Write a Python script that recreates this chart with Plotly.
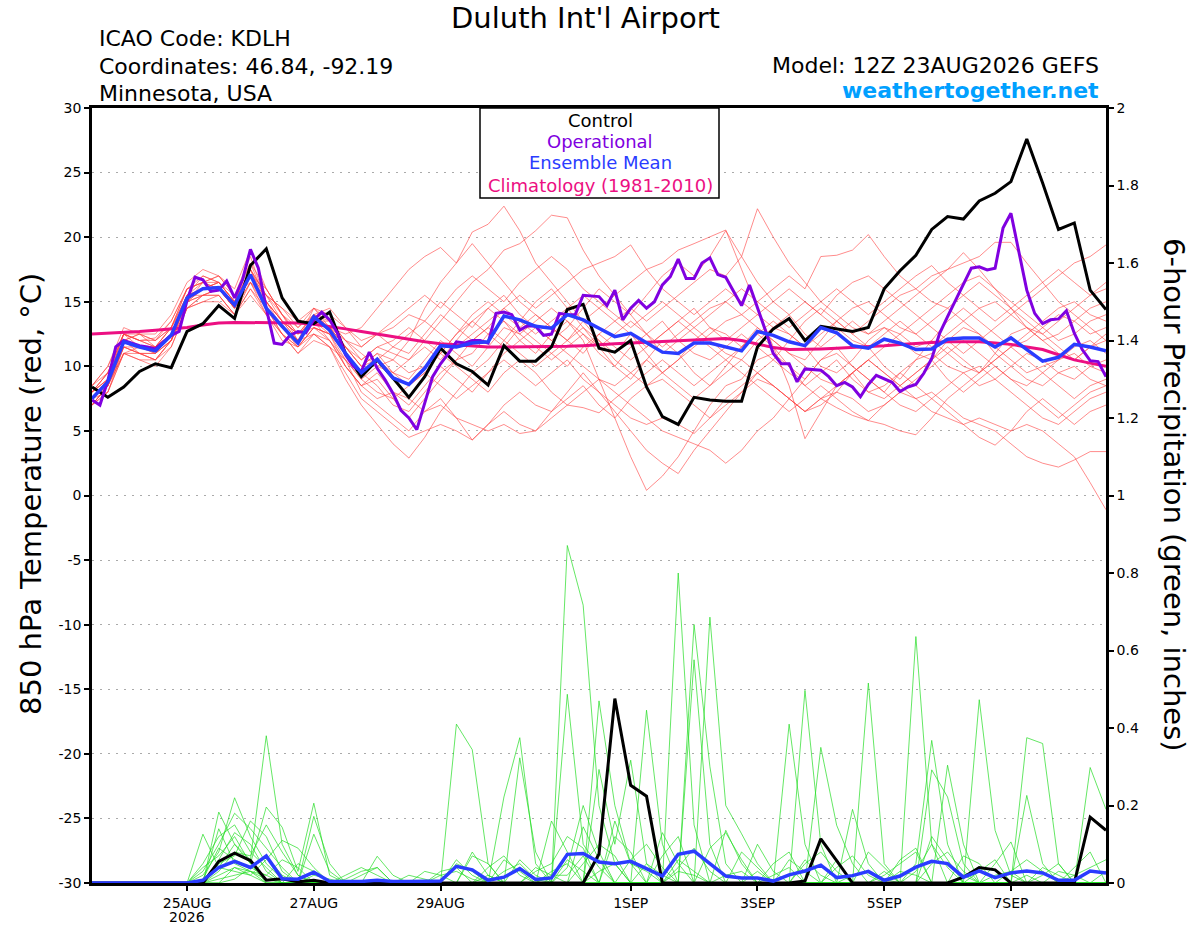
import pandas as pd
import plotly.graph_objects as go

# GEFS 12Z 23AUG2026 run, 6-hourly out to 384 h (operational is 3-hourly)
START = "2026-08-23 12:00"
times = pd.date_range(START, periods=65, freq="6h")
op_times = pd.date_range(START, periods=129, freq="3h")

tick_dates = ["2026-08-25", "2026-08-27", "2026-08-29", "2026-09-01",
              "2026-09-03", "2026-09-05", "2026-09-07"]
tick_labels = ["25AUG", "27AUG", "29AUG", "1SEP", "3SEP", "5SEP", "7SEP"]
temp_ticks = [-30, -25, -20, -15, -10, -5, 0, 5, 10, 15, 20, 25, 30]
temp_tick_labels = ["-30", "-25", "-20", "-15", "-10", "-5", "0",
                    "5", "10", "15", "20", "25", "30"]

# 850 hPa temperature (C)
control_temp = [8.4, 7.6, 8.4, 9.6, 10.2, 9.9, 12.7, 13.3, 14.7, 13.7,
                17.8, 19.1, 15.3, 13.5, 13.3, 14.2, 11.0, 9.2, 10.5, 9.1,
                7.6, 9.2, 11.4, 10.2, 9.6, 8.55, 11.6, 10.4, 10.4, 11.5,
                14.4, 14.8, 11.4, 11.1, 12.0, 8.4, 6.1, 5.5, 7.6, 7.4,
                7.3, 7.3, 11.5, 12.9, 13.7, 12.0, 13.1, 12.9, 12.7, 13.0,
                16.0, 17.4, 18.6, 20.6, 21.6, 21.4, 22.8, 23.4, 24.3, 27.6,
                24.2, 20.6, 21.1, 15.9, 14.4]

operational_temp = [7.4, 7.0, 8.9, 11.5, 12.0, 11.8, 11.6, 11.5, 11.35, 11.9,
                    12.4, 12.7, 15.1, 16.9, 16.7, 15.8, 15.9, 16.6, 15.3, 16.7,
                    19.06, 17.6, 14.5, 11.8, 11.7, 12.4, 12.7, 12.6, 13.6, 14.2,
                    13.6, 12.56, 10.9, 10.0, 9.6, 11.1, 9.85, 8.95, 7.9, 6.6,
                    6.0, 5.1, 7.1, 9.2, 10.2, 11.0, 11.9, 11.8, 12.0, 12.0,
                    11.8, 14.1, 14.2, 14.0, 12.8, 13.15, 13.1, 12.4, 12.5, 14.1,
                    14.0, 14.0, 15.5, 15.45, 15.4, 14.7, 15.9, 13.6, 14.5, 15.1,
                    14.5, 15.0, 16.3, 16.95, 18.3, 16.8, 16.8, 18.0, 18.4, 17.1,
                    16.9, 15.8, 14.7, 16.3, 14.6, 12.8, 11.0, 10.2, 10.2, 8.8,
                    9.8, 9.75, 9.7, 9.2, 8.5, 8.75, 8.4, 7.65, 8.6, 9.3,
                    9.0, 8.76, 8.05, 8.4, 8.6, 9.46, 10.6, 12.56, 13.85, 15.1,
                    16.3, 17.6, 17.7, 17.46, 17.6, 20.7, 21.85, 18.75, 15.9, 14.1,
                    13.3, 13.6, 13.67, 14.3, 12.56, 11.3, 10.44, 10.37, 9.2]

mean_temp = [7.5, 8.8, 11.9, 11.5, 11.2, 12.4, 15.3, 16.0, 16.1, 14.75,
             17.1, 14.5, 13.1, 11.8, 13.85, 12.8, 11.0, 9.5, 10.55, 9.1,
             8.6, 9.85, 11.6, 11.5, 11.8, 11.9, 13.9, 13.6, 13.1, 12.95,
             14.0, 13.6, 12.95, 12.3, 12.56, 11.8, 11.1, 11.0, 11.8, 11.8,
             11.5, 11.2, 12.7, 12.4, 11.9, 11.6, 13.0, 12.6, 11.6, 11.4,
             12.1, 11.8, 11.3, 11.35, 12.1, 12.2, 12.2, 11.5, 12.2, 11.3,
             10.4, 10.7, 11.7, 11.5, 11.2]

climo_temp = [12.5, 12.55, 12.6, 12.7, 12.8, 12.9, 13.0, 13.2, 13.35, 13.4,
              13.4, 13.4, 13.4, 13.35, 13.25, 13.1, 12.9, 12.7, 12.5, 12.25,
              12.05, 11.9, 11.75, 11.65, 11.55, 11.5, 11.5, 11.5, 11.5, 11.5,
              11.55, 11.6, 11.7, 11.75, 11.8, 11.85, 11.9, 11.95, 12.0, 12.1,
              12.15, 12.0, 11.7, 11.45, 11.3, 11.3, 11.35, 11.4, 11.45, 11.5,
              11.6, 11.7, 11.8, 11.85, 11.9, 11.9, 11.9, 11.8, 11.7, 11.5,
              11.3, 10.9, 10.5, 10.25, 10.0]

member_temps = [
    [8.0, 9.5, 12.5, 12.0, 12.2, 13.5, 16.0, 16.5, 17.0, 15.5,
     18.5, 15.0, 13.5, 12.0, 14.5, 13.0, 11.5, 10.0, 11.0, 10.5,
     12.0, 14.5, 16.5, 18.0, 20.4, 21.0, 22.4, 20.5, 18.0, 16.5,
     15.0, 13.5, 12.0, 11.0, 12.5, 11.0, 9.5, 10.5, 12.0, 13.0,
     12.5, 11.5, 13.0, 12.0, 11.0, 10.5, 12.0, 13.5, 12.5, 11.5,
     10.0, 9.0, 10.5, 12.0, 11.0, 10.0, 9.5, 11.0, 12.5, 13.0,
     12.0, 11.0, 10.5, 11.5, 12.0],
    [7.0, 8.5, 11.0, 11.0, 10.5, 12.0, 14.5, 15.5, 15.5, 14.0,
     16.5, 14.0, 12.5, 11.5, 13.0, 12.5, 10.0, 8.5, 9.0, 7.5,
     6.0, 7.5, 9.0, 10.5, 11.0, 12.5, 13.5, 12.0, 11.0, 12.5,
     13.5, 12.0, 9.0, 6.0, 3.0, 0.4, 1.5, 3.0, 5.0, 7.0,
     8.5, 9.0, 10.5, 11.0, 10.0, 9.0, 10.5, 11.5, 10.0, 9.0,
     8.0, 9.5, 10.5, 11.0, 10.0, 9.5, 8.5, 9.0, 10.0, 11.0,
     10.5, 9.5, 9.0, 10.0, 10.5],
    [7.5, 9.0, 12.0, 12.5, 11.5, 13.0, 15.5, 17.0, 16.5, 15.0,
     17.0, 16.0, 14.0, 12.0, 13.5, 13.5, 12.0, 11.5, 12.5, 13.0,
     14.0, 13.5, 15.0, 14.0, 13.0, 14.5, 15.5, 14.0, 13.0, 12.0,
     13.0, 14.5, 16.0, 15.0, 14.0, 15.5, 17.0, 18.0, 17.0, 18.5,
     20.5, 18.5, 22.2, 20.0, 18.0, 16.5, 15.0, 14.0, 13.0, 12.5,
     13.0, 12.0, 11.0, 10.5, 12.0, 13.0, 12.5, 11.0, 10.0, 9.0,
     8.5, 9.5, 10.0, 9.0, 8.5],
    [7.0, 8.0, 11.5, 11.0, 10.5, 12.0, 15.0, 15.5, 16.0, 14.5,
     17.5, 14.5, 12.5, 11.0, 12.5, 11.5, 9.0, 7.0, 5.5, 4.0,
     2.9, 4.5, 6.5, 8.0, 9.5, 10.5, 12.0, 13.5, 15.0, 16.0,
     14.5, 13.0, 11.5, 10.0, 9.0, 10.5, 12.0, 11.0, 9.5, 8.5,
     10.0, 11.5, 12.5, 11.5, 10.0, 8.5, 7.5, 8.0, 9.5, 10.5,
     11.5, 12.5, 13.5, 14.5, 15.5, 16.5, 17.0, 16.0, 15.0, 14.0,
     13.0, 12.0, 12.5, 13.5, 14.0],
    [8.5, 10.0, 12.5, 12.0, 12.0, 13.0, 16.0, 16.5, 16.5, 15.0,
     17.5, 15.5, 14.0, 12.5, 14.0, 13.0, 12.0, 10.5, 11.5, 11.0,
     10.5, 12.0, 13.5, 15.0, 16.5, 17.5, 19.0, 19.5, 20.5, 21.7,
     21.5, 19.0, 17.0, 15.5, 14.0, 12.5, 11.0, 12.0, 13.0, 12.0,
     11.0, 10.5, 12.0, 13.0, 12.5, 11.5, 10.0, 9.5, 10.5, 12.0,
     13.0, 12.5, 11.5, 12.0, 13.5, 14.5, 13.5, 12.5, 11.5, 12.0,
     13.0, 14.0, 13.5, 12.5, 13.0],
    [7.0, 8.5, 11.0, 10.5, 10.5, 11.5, 14.5, 15.0, 15.5, 14.0,
     16.0, 14.5, 13.0, 11.5, 12.5, 12.0, 10.5, 8.0, 7.0, 6.0,
     5.0, 6.5, 7.5, 6.0, 4.3, 5.5, 7.0, 8.0, 7.0, 6.5,
     7.5, 8.5, 7.0, 6.0, 7.5, 8.5, 9.0, 8.0, 7.0, 6.0,
     7.0, 8.0, 9.0, 8.5, 7.5, 6.5, 7.0, 8.0, 7.5, 6.5,
     7.0, 8.0, 7.5, 6.5, 6.0, 5.5, 6.0, 5.5, 5.0, 5.5,
     5.0, 4.0, 3.0, 1.0, -1.1],
    [8.0, 9.0, 12.5, 11.5, 11.0, 12.5, 15.5, 16.0, 16.5, 15.0,
     18.0, 15.0, 13.0, 12.0, 14.0, 13.5, 11.5, 10.0, 11.0, 9.5,
     9.0, 10.5, 12.0, 11.0, 10.0, 11.5, 13.0, 12.5, 11.5, 10.5,
     11.5, 12.5, 11.0, 10.0, 11.5, 12.5, 13.5, 12.0, 11.0, 10.5,
     11.5, 12.5, 11.5, 10.5, 12.0, 13.5, 14.5, 13.5, 12.5, 13.5,
     14.5, 15.5, 16.0, 17.0, 17.5, 18.0, 18.5, 19.6, 19.6, 18.0,
     16.5, 15.0, 14.0, 13.0, 12.0],
    [7.5, 8.5, 11.5, 11.0, 11.0, 12.0, 15.0, 16.0, 16.0, 14.5,
     17.0, 14.5, 13.0, 12.0, 13.5, 12.0, 10.0, 8.5, 7.5, 8.0,
     7.0, 8.5, 10.0, 9.0, 8.0, 9.5, 10.5, 9.5, 8.5, 9.5,
     10.5, 9.0, 8.0, 6.5, 5.0, 3.5, 2.5, 1.7, 3.5, 5.0,
     6.5, 8.0, 9.5, 10.5, 9.5, 8.5, 9.5, 10.5, 9.0, 8.0,
     8.5, 9.5, 8.5, 7.5, 6.5, 5.5, 4.5, 3.9, 5.0, 6.5,
     7.5, 6.5, 5.5, 6.5, 7.0],
    [8.0, 9.5, 12.0, 12.5, 12.0, 13.0, 15.5, 16.5, 17.0, 15.5,
     16.5, 15.5, 14.5, 13.5, 14.5, 14.0, 13.0, 12.0, 12.5, 11.5,
     11.0, 12.5, 14.0, 13.0, 12.0, 13.0, 14.5, 15.5, 14.5, 15.5,
     16.5, 17.5, 18.0, 18.5, 19.4, 17.5, 16.0, 15.0, 14.0, 15.0,
     16.0, 15.0, 14.0, 13.0, 14.0, 15.0, 14.0, 13.0, 12.0, 11.5,
     12.5, 13.5, 12.5, 11.5, 12.5, 13.5, 14.5, 15.0, 14.0, 13.0,
     12.5, 13.5, 14.5, 15.5, 16.0],
    [8.5, 10.0, 13.0, 12.5, 12.5, 14.0, 16.5, 17.5, 17.0, 16.0,
     19.0, 16.0, 14.0, 12.5, 13.0, 12.5, 11.0, 9.5, 8.5, 7.0,
     6.5, 8.0, 9.5, 10.5, 12.0, 13.0, 12.0, 11.0, 10.0, 11.0,
     12.0, 13.0, 12.0, 10.5, 9.5, 8.5, 9.5, 10.5, 11.5, 12.5,
     13.5, 14.0, 13.0, 12.0, 11.0, 10.0, 9.0, 8.5, 9.5, 10.5,
     9.5, 8.5, 9.5, 10.5, 9.0, 8.0, 9.0, 10.0, 9.0, 8.5,
     9.5, 10.5, 11.0, 10.0, 9.5],
    [7.5, 9.0, 12.0, 11.5, 11.5, 13.0, 16.0, 16.5, 16.0, 15.0,
     17.5, 15.0, 13.5, 12.5, 14.0, 13.0, 12.5, 13.0, 14.5, 16.0,
     17.5, 18.5, 19.2, 18.0, 19.5, 18.0, 16.5, 15.0, 14.0, 13.0,
     12.0, 13.5, 14.5, 13.5, 12.5, 11.5, 12.5, 13.5, 14.5, 13.0,
     12.0, 13.0, 14.0, 15.0, 16.0, 15.0, 14.0, 15.5, 16.5, 17.0,
     16.0, 15.0, 14.0, 13.0, 12.0, 11.0, 12.0, 13.0, 14.0, 15.0,
     16.0, 17.0, 18.0, 18.5, 19.4],
    [7.0, 8.0, 11.0, 10.5, 10.0, 11.5, 14.5, 15.0, 15.0, 14.0,
     15.5, 14.0, 12.5, 11.0, 12.0, 11.5, 9.5, 7.5, 6.5, 5.5,
     4.5, 5.0, 5.5, 5.0, 4.3, 5.5, 6.5, 5.5, 5.0, 6.0,
     7.0, 8.0, 9.0, 8.0, 7.0, 6.0, 5.0, 4.5, 4.0, 3.5,
     2.5, 3.5, 5.0, 6.0, 7.5, 9.0, 10.5, 11.0, 10.0, 9.0,
     8.0, 7.0, 6.5, 7.5, 8.5, 9.5, 10.0, 9.0, 8.0, 7.0,
     6.0, 5.5, 6.5, 7.5, 8.0],
    [8.0, 9.0, 12.5, 12.0, 11.5, 12.5, 15.5, 16.0, 16.5, 15.0,
     17.0, 15.5, 13.5, 12.5, 13.5, 13.0, 11.5, 10.5, 11.5, 12.0,
     13.0, 12.0, 11.0, 12.5, 13.5, 14.5, 13.5, 12.5, 13.5, 14.5,
     13.5, 12.5, 11.5, 12.5, 13.5, 12.5, 11.5, 12.5, 13.5, 14.5,
     15.0, 14.0, 15.0, 16.0, 17.0, 16.0, 18.5, 18.6, 19.0, 20.2,
     18.5, 17.0, 16.0, 15.0, 14.5, 15.5, 16.5, 15.5, 14.5, 13.5,
     12.5, 11.5, 10.5, 11.5, 12.5],
    [7.0, 8.5, 11.5, 11.0, 10.5, 12.0, 14.5, 15.5, 15.5, 14.0,
     16.0, 14.0, 12.0, 11.5, 13.0, 12.0, 10.0, 8.5, 9.5, 8.0,
     7.5, 6.5, 7.0, 6.0, 5.5, 5.0, 5.5, 4.8, 5.0, 6.5,
     8.0, 9.5, 8.0, 7.0, 6.0, 5.5, 6.0, 5.5, 4.8, 6.0,
     7.5, 8.5, 9.5, 8.5, 7.5, 6.5, 7.5, 8.5, 9.5, 10.5,
     9.5, 8.5, 7.5, 8.0, 7.0, 6.0, 5.5, 5.0, 4.0, 3.0,
     2.5, 2.2, 2.75, 3.4, 3.4],
    [8.0, 9.5, 12.5, 12.0, 11.5, 13.0, 15.0, 16.5, 16.0, 15.0,
     17.5, 15.5, 14.5, 13.0, 14.5, 13.5, 12.0, 11.0, 10.0, 9.5,
     10.5, 11.5, 10.5, 12.0, 13.5, 12.5, 11.5, 13.0, 14.0, 13.0,
     12.0, 11.0, 12.5, 13.5, 14.5, 13.5, 14.5, 15.5, 16.5, 17.5,
     17.0, 18.5, 16.5, 15.0, 14.0, 12.5, 11.5, 12.5, 13.5, 12.5,
     13.5, 14.5, 15.5, 16.5, 17.5, 18.8, 17.5, 16.0, 14.5, 13.0,
     12.0, 12.5, 13.5, 14.5, 15.0],
    [7.5, 8.0, 11.0, 11.5, 11.0, 12.0, 15.0, 15.5, 16.0, 14.5,
     16.5, 14.5, 13.0, 12.0, 12.5, 11.5, 10.5, 9.0, 10.0, 10.5,
     9.5, 10.0, 11.0, 10.0, 9.0, 8.0, 9.5, 10.5, 9.5, 8.0,
     7.0, 6.8, 6.4, 7.5, 8.5, 9.5, 10.5, 9.5, 8.5, 9.5,
     10.5, 9.5, 8.5, 7.5, 6.5, 7.5, 8.5, 7.5, 6.5, 5.8,
     5.5, 5.0, 4.7, 6.0, 7.5, 8.5, 9.5, 10.5, 11.5, 10.5,
     9.5, 8.5, 7.5, 8.5, 9.0],
    [8.0, 9.0, 12.0, 11.5, 11.5, 12.5, 15.5, 16.0, 16.5, 15.0,
     17.0, 15.0, 13.5, 12.5, 13.5, 12.5, 11.0, 9.5, 10.5, 11.5,
     12.5, 13.5, 12.5, 11.5, 12.5, 13.5, 14.5, 13.5, 12.5, 13.5,
     14.5, 15.5, 14.5, 15.5, 16.5, 17.5, 18.0, 19.0, 19.5, 20.0,
     20.55, 17.5, 14.5, 11.5, 8.5, 4.4, 6.5, 8.5, 9.5, 8.0,
     7.5, 8.5, 9.5, 10.5, 11.5, 10.5, 9.5, 10.5, 11.5, 12.5,
     13.5, 14.5, 15.0, 14.0, 13.5],
    [7.5, 8.5, 11.5, 11.5, 11.5, 12.5, 15.0, 16.0, 16.0, 14.5,
     16.5, 15.0, 13.5, 12.0, 13.5, 13.0, 11.5, 10.0, 10.5, 9.5,
     8.5, 9.5, 11.0, 12.5, 14.0, 15.0, 14.0, 13.0, 12.0, 11.0,
     10.0, 11.5, 12.5, 11.5, 10.5, 11.5, 12.5, 13.5, 12.5, 11.5,
     10.5, 11.5, 12.5, 13.5, 12.5, 11.5, 12.5, 13.5, 14.5, 15.0,
     14.0, 13.0, 12.5, 13.5, 14.5, 13.5, 12.5, 11.5, 10.5, 9.5,
     10.0, 10.5, 11.5, 12.0, 11.0],
    [7.0, 8.5, 12.0, 11.0, 11.0, 12.0, 15.5, 15.5, 16.0, 14.5,
     17.0, 14.5, 12.5, 11.5, 13.0, 12.5, 10.5, 9.0, 8.0, 7.5,
     8.5, 9.5, 8.5, 7.5, 8.5, 9.5, 11.0, 12.0, 13.0, 12.0,
     11.0, 10.0, 9.0, 8.5, 9.5, 10.5, 9.5, 8.5, 7.5, 8.5,
     9.5, 10.5, 9.5, 8.5, 7.5, 6.5, 7.5, 6.8, 6.2, 5.8,
     7.0, 8.0, 9.0, 10.0, 11.0, 12.0, 11.0, 10.0, 9.0, 8.0,
     7.0, 6.0, 7.0, 8.0, 8.5],
    [8.5, 9.5, 12.5, 12.5, 12.0, 13.5, 16.0, 17.0, 16.5, 15.5,
     18.0, 16.0, 14.0, 13.0, 14.0, 14.5, 13.0, 11.5, 12.5, 13.5,
     14.5, 15.5, 14.5, 16.0, 17.0, 16.0, 15.0, 16.5, 17.5, 18.5,
     17.5, 16.0, 15.0, 14.0, 13.0, 14.0, 15.0, 14.0, 13.0, 14.0,
     15.0, 16.0, 15.0, 14.0, 13.0, 14.0, 15.0, 16.0, 15.0, 14.0,
     15.0, 16.0, 17.0, 17.8, 16.5, 15.5, 14.5, 13.5, 14.5, 15.5,
     16.5, 17.5, 16.5, 15.5, 16.5],
]

# 6-hour precipitation (inches)
control_precip = [0, 0, 0, 0, 0, 0, 0, 0, .056, .077, .058, .007, .011,
                  .003, .007, 0, 0, 0, 0, 0, 0, 0, 0, 0, 0, 0,
                  0, 0, 0, 0, 0, 0, .075, .476, .252, .224, 0, 0, 0,
                  0, 0, 0, 0, 0, 0, .005, .114, .058, 0, 0, 0, 0,
                  0, 0, 0, .015, .04, .034, 0, 0, 0, 0, 0, .17, .136]

mean_precip = [0, 0, 0, 0, 0, 0, 0, .007, .04, .056, .04, .07, .011,
               .01, .028, .004, .003, .004, .007, .004, .004, .004, .005, .043, .034, .007,
               .015, .037, .009, .013, .074, .076, .054, .05, .056, .037, .018, .074, .082,
               .05, .018, .013, .013, .005, .021, .031, .046, .014, .019, .03, .007, .018,
               .041, .056, .05, .015, .031, .014, .026, .031, .026, .007, .007, .031, .026]

member_precip = [
    [0, 0, 0, 0, 0, 0, 0, .02, .08, .22, .12, .05, .01,
     0, 0, 0, 0, 0, 0, 0, 0, 0, 0, .41, .344, .05,
     0, 0, 0, 0, .871, .717, .2, .05, 0, 0, 0, .06, .03,
     0, 0, 0, 0, 0, 0, .497, .1, 0, 0, 0, 0, 0,
     .05, .368, .1, 0, 0, 0, 0, .02, 0, 0, 0, 0, 0],
    [0, 0, 0, 0, 0, 0, 0, .126, .04, .1, .06, .38, .1,
     .02, 0, 0, 0, 0, 0, 0, 0, 0, 0, 0, 0, 0,
     .222, .375, .05, 0, 0, 0, .47, .2, .05, 0, 0, .8, .15,
     0, 0, 0, 0, 0, 0, 0, 0, 0, 0, .516, .05, 0,
     0, 0, 0, 0, .473, .136, .02, 0, 0, 0, 0, 0, 0],
    [0, 0, 0, 0, 0, 0, 0, 0, .183, .1, .05, .196, .144,
     .03, .206, .02, 0, 0, 0, 0, 0, 0, 0, 0, 0, 0,
     0, 0, 0, 0, .487, .1, .04, 0, 0, 0, 0, 0, .667,
     .3, .05, 0, 0, 0, .41, .1, 0, 0, 0, 0, 0, 0,
     .636, .1, 0, 0, 0, 0, 0, 0, 0, 0, 0, .298, .19],
    [0, 0, 0, 0, 0, 0, 0, .05, .12, .15, .08, .04, 0,
     0, .172, .05, 0, 0, 0, 0, 0, 0, 0, 0, 0, 0,
     0, .323, .08, 0, 0, 0, .293, .1, .317, .05, 0, 0, 0,
     .686, .2, .127, .05, 0, 0, 0, 0, 0, 0, 0, 0, 0,
     0, 0, 0, 0, 0, 0, 0, .375, .36, .05, 0, 0, 0],
    [0, 0, 0, 0, 0, 0, 0, 0, .06, .13, .1, .03, 0,
     0, .126, .03, 0, 0, .069, .02, 0, 0, 0, 0, 0, 0,
     0, 0, 0, .16, .08, 0, 0, 0, 0, .446, .1, 0, .576,
     .1, 0, 0, 0, 0, 0, 0, .35, .149, .05, 0, 0, 0,
     0, .292, .222, .05, 0, 0, 0, 0, 0, 0, 0, 0, 0],
    [0, 0, 0, 0, 0, 0, 0, .03, .1, .18, .14, .09, .04,
     0, 0, 0, 0, 0, 0, 0, 0, .03, .02, 0, .08, .02,
     0, 0, 0, 0, 0, .145, .06, 0, 0, 0, 0, 0, 0,
     0, .136, .05, 0, 0, 0, 0, 0, 0, .19, .05, 0, 0,
     0, 0, .304, .1, 0, 0, 0, .226, .05, 0, 0, 0, 0],
    [0, 0, 0, 0, 0, 0, 0, 0, .05, .07, .16, .12, .03,
     0, 0, 0, .01, .03, .04, 0, 0, 0, 0, .05, .03, 0,
     .06, .03, 0, 0, 0, 0, 0, .12, .08, 0, 0, 0, 0,
     0, 0, 0, .1, .03, 0, 0, 0, .06, 0, 0, .03, 0,
     0, 0, 0, 0, 0, .05, .106, 0, 0, 0, 0, 0, 0],
    [0, 0, 0, 0, 0, 0, 0, .01, .09, .06, .04, .07, .02,
     0, 0, 0, 0, 0, 0, 0, 0, 0, .03, .04, 0, 0,
     0, 0, .03, .05, .12, .09, 0, 0, 0, 0, .07, .12, 0,
     0, 0, 0, 0, 0, .06, .03, 0, 0, 0, 0, 0, .06,
     .09, 0, 0, 0, 0, 0, 0, 0, 0, 0, .04, .08, 0],
    [0, 0, 0, 0, 0, 0, 0, 0, .14, .05, .03, 0, 0,
     .05, .03, 0, 0, .02, .04, 0, 0, 0, 0, 0, 0, .04,
     .07, .02, 0, 0, 0, .05, .1, .07, 0, 0, 0, 0, 0,
     .09, .13, .06, 0, 0, 0, 0, 0, 0, 0, .08, .04, 0,
     0, 0, 0, .07, .05, 0, 0, 0, 0, 0, 0, 0, 0],
    [0, 0, 0, 0, 0, 0, 0, 0, .03, .08, .07, .15, .08,
     .02, 0, 0, 0, 0, 0, 0, 0, 0, 0, .06, .02, 0,
     0, 0, 0, 0, .04, .2, .08, 0, 0, 0, .13, .05, 0,
     0, 0, 0, 0, 0, 0, .05, .08, .03, 0, 0, 0, 0,
     0, .12, .06, 0, 0, 0, 0, 0, .04, .02, 0, 0, 0],
    [0, 0, 0, 0, 0, 0, 0, 0, 0, .04, .02, .06, .11,
     .09, .04, 0, 0, 0, 0, 0, 0, 0, 0, 0, 0, 0,
     0, .06, .02, 0, 0, 0, 0, .16, .05, .03, 0, 0, 0,
     0, 0, .08, .04, 0, 0, 0, 0, 0, 0, 0, .02, .05,
     .08, 0, 0, 0, .03, .06, 0, 0, 0, 0, 0, 0, .03],
    [0, 0, 0, 0, 0, 0, 0, .04, .07, .12, .05, 0, 0,
     0, 0, 0, 0, 0, 0, 0, .02, .01, 0, 0, .07, .05,
     0, 0, 0, 0, .06, .03, 0, 0, 0, 0, 0, .04, .09,
     .03, 0, 0, 0, .05, .08, 0, 0, 0, 0, 0, 0, 0,
     .03, .1, .04, 0, 0, 0, 0, 0, .02, .05, 0, 0, 0],
    [0, 0, 0, 0, 0, 0, 0, 0, .02, .04, .03, .02, .06,
     .04, 0, 0, .02, .04, .02, 0, 0, 0, 0, 0, 0, 0,
     0, 0, 0, .03, .05, 0, 0, 0, .06, .1, .04, 0, 0,
     0, 0, 0, 0, 0, 0, 0, 0, .04, .07, .02, 0, 0,
     0, 0, 0, 0, 0, 0, .03, .06, .03, 0, 0, 0, 0],
    [0, 0, 0, 0, 0, 0, 0, 0, .01, .02, .03, .01, 0,
     0, 0, 0, 0, 0, 0, 0, 0, 0, 0, 0, 0, 0,
     .03, .05, .01, 0, 0, 0, .03, .05, 0, 0, 0, 0, 0,
     0, .02, .03, 0, 0, 0, .06, .02, 0, 0, 0, 0, 0,
     0, .05, .08, .03, 0, 0, 0, 0, 0, 0, .02, .04, .06],
    [0, 0, 0, 0, 0, 0, 0, 0, .04, .03, .02, 0, 0,
     0, 0, 0, 0, 0, 0, 0, 0, 0, .02, .03, .01, 0,
     0, 0, 0, .02, .02, .07, 0, 0, 0, 0, 0, .03, .02,
     0, 0, 0, 0, .02, .04, 0, 0, 0, 0, 0, 0, .03,
     .02, 0, 0, 0, 0, .02, .03, 0, 0, 0, 0, 0, 0],
    [0, 0, 0, 0, 0, 0, 0, 0, 0, .01, .04, .02, 0,
     0, .02, .01, 0, 0, 0, 0, 0, 0, 0, 0, 0, .02,
     0, 0, .04, .02, 0, 0, 0, 0, 0, .05, .02, 0, 0,
     0, 0, 0, .03, 0, 0, 0, 0, 0, .02, .03, .01, 0,
     0, 0, 0, .02, 0, 0, 0, 0, 0, .03, .02, 0, 0],
]

FONT = "DejaVu Sans"
PURPLE = "#8000e0"
BLUE = "#2a3cff"
MAGENTA = "#ec0f82"

# plot area in pixels: x 92..1106, y 108..883
L, R, T, B = 92, 1106, 108, 883


def px(x):
    return (x - L) / (R - L)


def py(y):
    return (B - y) / (B - T)


fig = go.Figure()

for m in member_temps:
    fig.add_trace(go.Scatter(x=times, y=m, mode="lines",
                             line=dict(color="rgba(255,60,60,0.85)", width=0.7)))
fig.add_trace(go.Scatter(x=times, y=climo_temp, mode="lines",
                         line=dict(color=MAGENTA, width=3)))
fig.add_trace(go.Scatter(x=times, y=control_temp, mode="lines",
                         line=dict(color="black", width=3)))
fig.add_trace(go.Scatter(x=op_times, y=operational_temp, mode="lines",
                         line=dict(color=PURPLE, width=3)))
fig.add_trace(go.Scatter(x=times, y=mean_temp, mode="lines",
                         line=dict(color=BLUE, width=3.5)))

for p in member_precip:
    fig.add_trace(go.Scatter(x=times, y=p, mode="lines", yaxis="y2",
                             line=dict(color="#22dd22", width=0.7)))
fig.add_trace(go.Scatter(x=times, y=control_precip, mode="lines", yaxis="y2",
                         line=dict(color="black", width=3)))
fig.add_trace(go.Scatter(x=times, y=mean_precip, mode="lines", yaxis="y2",
                         line=dict(color=BLUE, width=3.5)))

axis_common = dict(showline=True, linecolor="black", linewidth=2.5,
                   ticks="outside", ticklen=5, tickwidth=1.5, tickcolor="black",
                   tickfont=dict(family=FONT, size=14, color="black"),
                   zeroline=False, automargin=False)

fig.update_layout(
    width=1200, height=927,
    margin=dict(l=L, r=1200 - R, t=T, b=927 - B),
    paper_bgcolor="white", plot_bgcolor="white",
    showlegend=False,
    font=dict(family=FONT, color="black"),
    xaxis=dict(type="date", range=[times[0], times[-1]],
               tickvals=pd.to_datetime(tick_dates), ticktext=tick_labels,
               mirror=True, showgrid=False, **axis_common),
    yaxis=dict(range=[-30, 30], tickvals=temp_ticks, ticktext=temp_tick_labels,
               showgrid=True, gridcolor="#aaaaaa",
               gridwidth=1, griddash="2px,6px", **axis_common),
    yaxis2=dict(range=[0, 2], dtick=0.2, overlaying="y", side="right",
                showgrid=False, **axis_common),
)

# year under the first date tick
fig.add_annotation(x=tick_dates[0], y=py(917), xref="x", yref="paper",
                   text="2026", showarrow=False, xanchor="center", yanchor="middle",
                   borderpad=0, font=dict(family=FONT, size=14, color="black"))

# legend box in the top middle of the plot
fig.add_shape(type="rect", xref="paper", yref="paper",
              x0=px(480), x1=px(719), y0=py(198), y1=1.0,
              line=dict(color="black", width=1.5), fillcolor="white", layer="above")

legend_rows = [("Control", "black", 121), ("Operational", PURPLE, 142),
               ("Ensemble Mean", BLUE, 163), ("Climatology (1981-2010)", MAGENTA, 185)]
for txt, col, y in legend_rows:
    fig.add_annotation(x=px(600), y=py(y), xref="paper", yref="paper",
                       text=txt, showarrow=False, xanchor="center", yanchor="middle",
                       font=dict(family=FONT, size=18, color=col))

notes = [
    ("Duluth Int'l Airport", 585, 18, "center", 29, "black"),
    ("ICAO Code: KDLH", 97, 39, "left", 22, "black"),
    ("Coordinates: 46.84, -92.19", 97, 66, "left", 22, "black"),
    ("Minnesota, USA", 97, 93, "left", 22, "black"),
    ("Model: 12Z 23AUG2026 GEFS", 1101, 65, "right", 22, "black"),
    ("<b>weathertogether.net</b>", 1101, 90, "right", 22, "#00a0ff"),
]
for txt, x, y, anchor, size, col in notes:
    fig.add_annotation(x=px(x), y=py(y), xref="paper", yref="paper",
                       text=txt, showarrow=False, xanchor=anchor, yanchor="middle",
                       font=dict(family=FONT, size=size, color=col))

fig.add_annotation(x=px(31), y=py(494), xref="paper", yref="paper",
                   text="850 hPa Temperature (red, °C)", textangle=-90,
                   showarrow=False, xanchor="center", yanchor="middle",
                   font=dict(family=FONT, size=29, color="black"))
fig.add_annotation(x=px(1174), y=py(495), xref="paper", yref="paper",
                   text="6-hour Precipitation (green, inches)", textangle=90,
                   showarrow=False, xanchor="center", yanchor="middle",
                   font=dict(family=FONT, size=29, color="black"))

# page body margin off so the figure sits at the window's top-left corner
fig.write_html("out.html", config={"displayModeBar": False},
               post_script="document.body.style.margin = '0';")
